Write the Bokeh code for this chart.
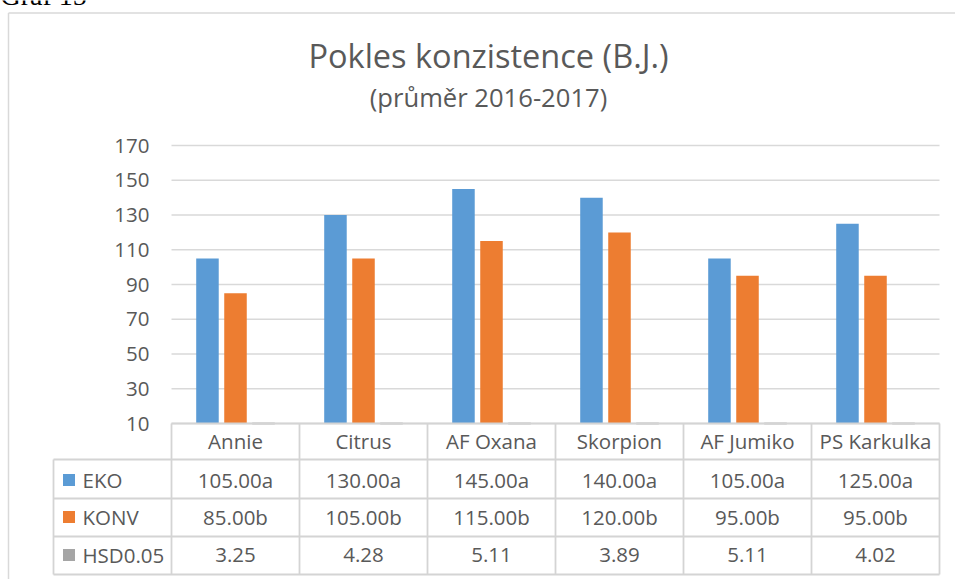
import numpy as np
from bokeh.plotting import figure
from bokeh.models import Range1d
from bokeh.core.properties import value
from bokeh.embed import file_html
from bokeh.resources import INLINE

# ---------------- data ----------------
categories = ["Annie", "Citrus", "AF Oxana", "Skorpion", "AF Jumiko", "PS Karkulka"]
eko = [105.0, 130.0, 145.0, 140.0, 105.0, 125.0]
konv = [85.0, 105.0, 115.0, 120.0, 95.0, 95.0]
hsd = [3.25, 4.28, 5.11, 3.89, 5.11, 4.02]
eko_sig = ["a", "a", "a", "a", "a", "a"]
konv_sig = ["b", "b", "b", "b", "b", "b"]
series_names = ["EKO", "KONV", "HSD0.05"]
series_colors = ["#5B9BD5", "#ED7D31", "#A5A5A5"]
y_ticks = [10, 30, 50, 70, 90, 110, 130, 150, 170]
y_min = 10

title_text = "Pokles konzistence (B.J.)"
subtitle_text = "(průměr 2016-2017)"
caption_text = "Graf 15"

# ---------------- layout helpers (page pixels -> data units) ----------------
W, H = 955, 579
CAT_PX = 128.0
X0_PX = 171.0
Y0_PX = 423.0
PX_PER_UNIT = 278.0 / 160.0


def X(px):
    return (px - X0_PX) / CAT_PX


def Y(py):
    return y_min + (Y0_PX - py) / PX_PER_UNIT


FONT = value("Open Sans")
TXT = "#595959"
GRID = "#D9D9D9"
BORDER = "#D4D4D4"

p = figure(width=W, height=H,
           x_range=Range1d(X(0), X(W)), y_range=Range1d(Y(H), Y(0)),
           output_backend="svg", toolbar_location=None,
           x_axis_location=None, y_axis_location=None,
           min_border=0)
p.xgrid.visible = False
p.ygrid.visible = False
p.outline_line_color = None
p.background_fill_color = "white"
p.border_fill_color = "white"

n = len(categories)
idx = np.arange(n)
centers = idx + 0.5

# chart frame
p.segment(x0=[X(8), X(8)], y0=[Y(12.5), Y(12.5)], x1=[X(W + 20), X(8)], y1=[Y(12.5), Y(H + 20)],
          line_color=GRID, line_width=1.5)

# caption above frame (cut off at top, as in the source)
p.text(x=[X(0)], y=[Y(-5)], text=[caption_text], text_font=value("Liberation Serif"),
       text_font_size="28px", text_color="black", text_baseline="middle", text_align="left")

# gridlines
p.segment(x0=[0] * len(y_ticks), y0=y_ticks, x1=[n] * len(y_ticks), y1=y_ticks,
          line_color=GRID, line_width=1.5)

# y tick labels
p.text(x=[X(149)] * len(y_ticks), y=y_ticks, text=[str(t) for t in y_ticks],
       text_font=FONT, text_font_size="20.5px", text_color=TXT,
       text_align="right", text_baseline="middle")

# bars
offs = [-0.219, 0.0, 0.219]
bw = 0.176
p.vbar(x=centers + offs[0], top=eko, bottom=y_min, width=bw,
       fill_color=series_colors[0], line_color=None)
p.vbar(x=centers + offs[1], top=konv, bottom=y_min, width=bw,
       fill_color=series_colors[1], line_color=None)
# HSD values lie below the axis minimum -> drawn clamped at the axis
p.vbar(x=centers + offs[2], top=np.maximum(hsd, y_min), bottom=y_min, width=bw,
       fill_color=series_colors[2], line_color="#BFBFBF", line_width=2)

# data table lines
tbl_rows_px = [423, 459, 498, 536, 574]
hx0 = [X(171), X(53), X(53), X(53), X(53)]
p.segment(x0=hx0, y0=[Y(v) for v in tbl_rows_px], x1=[n] * 5, y1=[Y(v) for v in tbl_rows_px],
          line_color=BORDER, line_width=1.8)
vx = list(range(n + 1))
p.segment(x0=vx, y0=[Y(423)] * len(vx), x1=vx, y1=[Y(574)] * len(vx),
          line_color=BORDER, line_width=1.8)
p.segment(x0=[X(53)], y0=[Y(459)], x1=[X(53)], y1=[Y(574)],
          line_color=BORDER, line_width=1.8)

# category labels (table header)
p.text(x=centers, y=[Y(440.5)] * n, text=categories, text_font=FONT, text_font_size="20.5px",
       text_color=TXT, text_align="center", text_baseline="middle")

# table values
rows = [
    [f"{v:.2f}{s}" for v, s in zip(eko, eko_sig)],
    [f"{v:.2f}{s}" for v, s in zip(konv, konv_sig)],
    [f"{v:.2f}" for v in hsd],
]
row_mid_px = [479.5, 516.5, 554.5]
for r, texts in enumerate(rows):
    p.text(x=centers, y=[Y(row_mid_px[r])] * n, text=texts, text_font=FONT,
           text_font_size="20.5px", text_color=TXT, text_align="center", text_baseline="middle")
    # legend key + label
    p.scatter(x=[X(68.5)], y=[Y(row_mid_px[r])], marker="square", size=12,
              fill_color=series_colors[r], line_color=None)
    p.text(x=[X(82)], y=[Y(row_mid_px[r])], text=[series_names[r]], text_font=FONT,
           text_font_size="20.5px", text_color=TXT, text_align="left", text_baseline="middle")

# title + subtitle
p.text(x=[X(488)], y=[Y(55)], text=[title_text], text_font=FONT, text_font_size="32.5px",
       text_color=TXT, text_align="center", text_baseline="middle")
p.text(x=[X(488)], y=[Y(96.5)], text=[subtitle_text], text_font=FONT, text_font_size="25.6px",
       text_color=TXT, text_align="center", text_baseline="middle")

open("out.html", "w").write(file_html(p, INLINE))
